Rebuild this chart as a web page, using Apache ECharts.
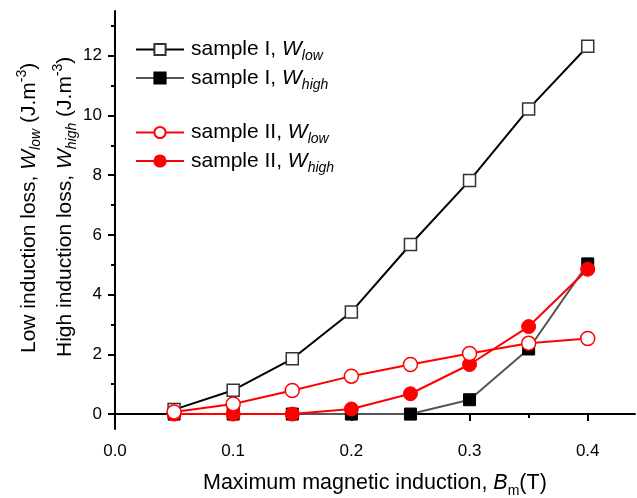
<!DOCTYPE html>
<html><head><meta charset="utf-8">
<script src="https://cdn.jsdelivr.net/npm/echarts@6/dist/echarts.min.js"></script>
<style>html,body{margin:0;padding:0;background:#fff}#c{width:637px;height:498px}</style>
</head><body><div id="c"></div>
<script>
var xValues = [0.05, 0.10, 0.15, 0.20, 0.25, 0.30, 0.35, 0.40];
var s1Low  = [0.15, 0.80, 1.85, 3.42, 5.68, 7.82, 10.22, 12.32];
var s1High = [0.00, 0.00, 0.00, 0.00, 0.00, 0.48, 2.18, 5.03];
var s2Low  = [0.07, 0.34, 0.79, 1.27, 1.66, 2.03, 2.37, 2.53];
var s2High = [0.00, 0.00, 0.00, 0.17, 0.68, 1.66, 2.93, 4.85];
var xMajor = [0, 0.1, 0.2, 0.3, 0.4];
var xMinor = [0.05, 0.15, 0.25, 0.35];
var yMajor = [0, 2, 4, 6, 8, 10, 12];
var yMinor = [1, 3, 5, 7, 9, 11, 13];

function pairs(v){ return xValues.map(function(x,i){return [x, v[i]];}); }
var FONT = 'Liberation Sans, Arial, sans-serif';
var chart = echarts.init(document.getElementById('c'), null, {renderer:'canvas'});

function legendRich(){
  return {
    n: {fontSize: 21, fontFamily: FONT, color:'#000', padding:[0,0,0,2]},
    w: {fontSize: 21, fontFamily: FONT, fontStyle:'italic', color:'#000'},
    s: {fontSize: 14, fontFamily: FONT, fontStyle:'italic', color:'#000', padding:[14,0,0,0]}
  };
}
function legendFmt(name){
  var m = name.match(/^(.*), W(\w+)$/);
  return '{n|' + m[1] + ', }{w|W}{s|' + m[2] + '}';
}
var titleRich = {
  t: {fontSize: 21, fontFamily: FONT, color:'#000'},
  w: {fontSize: 21, fontFamily: FONT, fontStyle:'italic', color:'#000'},
  s: {fontSize: 14, fontFamily: FONT, fontStyle:'italic', color:'#000', padding:[14,0,0,0]},
  p: {fontSize: 14, fontFamily: FONT, color:'#000', padding:[0,0,14,0]}
};

var option = {
  animation: false,
  backgroundColor: '#fff',
  grid: {left: 115, right: 2, top: 11, bottom: 69, outerBoundsMode: 'none', containLabel: false},
  xAxis: [{
    type: 'value', min: 0, max: 0.44, position: 'bottom',
    axisLine: {lineStyle: {color:'#000', width: 2}},
    axisTick: {inside: false, length: 7, lineStyle:{color:'#000', width: 2}, customValues: xMajor},
    axisLabel: {customValues: xMajor, margin: 14, fontSize: 17, fontFamily: FONT, color:'#000',
      formatter: function(v){ return v.toFixed(1); }},
    splitLine: {show: false}
  },{
    type: 'value', min: 0, max: 0.44, position: 'bottom',
    axisLine: {show: false},
    axisTick: {inside: false, length: 4, lineStyle:{color:'#000', width: 2}, customValues: xMinor},
    axisLabel: {show: false},
    splitLine: {show: false}
  }],
  yAxis: [{
    type: 'value', min: -0.5, max: 13.5, position: 'left',
    axisLine: {show: true, lineStyle: {color:'#000', width: 2}},
    axisTick: {show: true, inside: false, length: 7, lineStyle:{color:'#000', width: 2}, customValues: yMajor},
    axisLabel: {customValues: yMajor, margin: 13, fontSize: 17, fontFamily: FONT, color:'#000'},
    splitLine: {show: false}
  },{
    type: 'value', min: -0.5, max: 13.5, position: 'left',
    axisLine: {show: false},
    axisTick: {show: true, inside: false, length: 4, lineStyle:{color:'#000', width: 2}, customValues: yMinor},
    axisLabel: {show: false},
    splitLine: {show: false}
  }],
  legend: [{
    data: ['sample I, Wlow', 'sample I, Whigh'],
    orient: 'vertical', left: 130, top: 34, itemWidth: 48, itemHeight: 14, itemGap: 4,
    formatter: legendFmt, textStyle: {rich: legendRich(), fontSize: 21}
  },{
    data: ['sample II, Wlow', 'sample II, Whigh'],
    orient: 'vertical', left: 130, top: 117, itemWidth: 48, itemHeight: 14, itemGap: 4,
    formatter: legendFmt, textStyle: {rich: legendRich(), fontSize: 21}
  }],
  series: [{
    name: 'sample I, Wlow', type: 'line', data: pairs(s1Low), z: 2,
    symbol: 'rect', symbolSize: 12,
    lineStyle: {color:'#000', width: 2},
    itemStyle: {color:'#fff', borderColor:'#333', borderWidth: 1.5}
  },{
    name: 'sample I, Whigh', type: 'line', data: pairs(s1High), z: 3,
    symbol: 'rect', symbolSize: 12,
    lineStyle: {color:'#555', width: 2},
    itemStyle: {color:'#000', borderColor:'#000', borderWidth: 1}
  },{
    name: 'sample II, Whigh', type: 'line', data: pairs(s2High), z: 4,
    symbol: 'circle', symbolSize: 14,
    lineStyle: {color:'#ff0000', width: 2},
    itemStyle: {color:'#ff0000', borderColor:'#ff0000', borderWidth: 1}
  },{
    name: 'sample II, Wlow', type: 'line', data: pairs(s2Low), z: 5,
    symbol: 'circle', symbolSize: 14,
    lineStyle: {color:'#ff0000', width: 2},
    itemStyle: {color:'#fff', borderColor:'#ff0000', borderWidth: 1.5}
  }],
  graphic: [{
    type: 'text', x: 29, y: 353, rotation: Math.PI/2,
    style: {text: '{t|Low induction loss, }{w|W}{s|low}{t| (J.m}{p|-3}{t|)}', rich: titleRich,
      align: 'left', verticalAlign: 'middle'}
  },{
    type: 'text', x: 65, y: 357, rotation: Math.PI/2,
    style: {text: '{t|High induction loss, }{w|W}{s|high}{t| (J.m}{p|-3}{t|)}', rich: titleRich,
      align: 'left', verticalAlign: 'middle'}
  },{
    type: 'text', x: 203, y: 483,
    style: {text: '{t|Maximum magnetic induction, }{w|B}{m|m}{t|(T)}', rich: {
      t: {fontSize: 21.5, fontFamily: FONT, color:'#000'},
      w: {fontSize: 21.5, fontFamily: FONT, fontStyle:'italic', color:'#000'},
      m: {fontSize: 14, fontFamily: FONT, color:'#000', padding:[16,0,0,0]}
    }, align: 'left', verticalAlign: 'middle'}
  }]
};
chart.setOption(option);
</script></body></html>
